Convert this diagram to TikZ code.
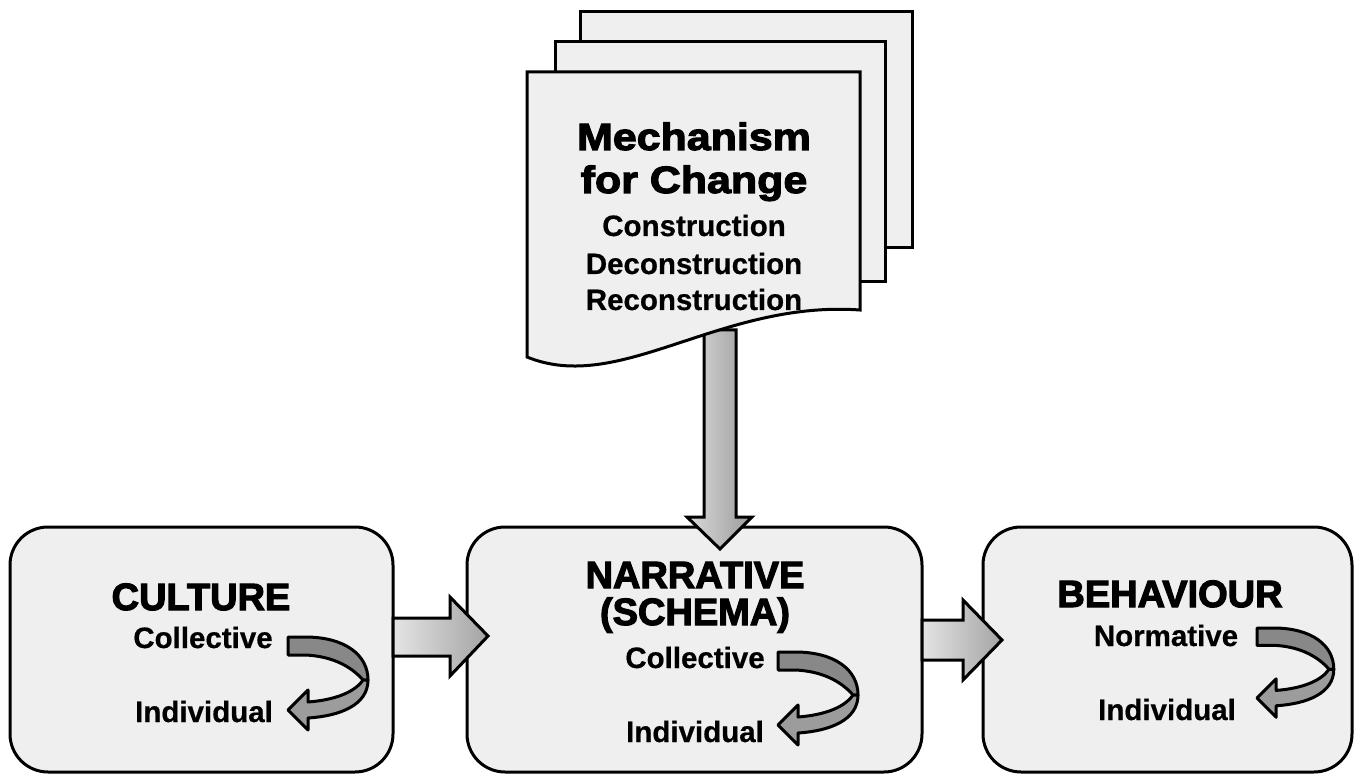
\documentclass[tikz,border=0pt]{standalone}
\usepackage{fontspec}
\setmainfont{Liberation Sans}[BoldFeatures={FakeBold=0.6}]
\newfontfamily\headfont{Liberation Sans}[BoldFeatures={FakeBold=3}]
\newfontfamily\mechfont{Liberation Sans}[BoldFeatures={FakeBold=3,FakeStretch=1.13}]
\definecolor{boxfill}{HTML}{EFEFEF}
\definecolor{curvup}{HTML}{888888}
\definecolor{curvlo}{HTML}{9C9C9C}
\definecolor{arrlight}{HTML}{E4E4E4}
\definecolor{arrdark}{HTML}{A4A4A4}
\tikzset{
  bigbox/.style={draw=black, line width=3pt, fill=boxfill, rounded corners=38pt, minimum height=245pt},
  sheet/.style={draw=black, line width=3pt, fill=boxfill, line join=miter},
  harrow/.style={draw=black, line width=3pt, line join=miter, left color=arrlight, right color=arrdark},
  varrow/.style={draw=black, line width=3pt, line join=miter, left color=arrlight!90!gray, right color=arrdark!110!white},
  headtxt/.style={font=\headfont\bfseries\fontsize{38}{40}\selectfont, inner sep=0pt, anchor=base},
  mechtxt/.style={font=\mechfont\bfseries\fontsize{38}{40}\selectfont, inner sep=0pt, anchor=base},
  subtxt/.style={font=\bfseries\fontsize{29.5}{31}\selectfont, inner sep=0pt, anchor=base},
  curv/.style={draw=black, line width=3pt, line join=round},
  curvarrow/.pic={
    \path[curv, fill=curvup] (0,0) -- (17,0) .. controls (57,0) and (80,18) .. (80,43)
       -- (75,43) .. controls (62,28) and (42,19) .. (17,18) -- (0,18) -- cycle;
    \path[curv, fill=curvlo] (80,43) .. controls (80,68) and (52,79) .. (20,81)
       -- (20,93) -- (0,73) -- (20,53) -- (20,65)
       .. controls (47,63) and (67,55) .. (75,43) -- cycle;
  }
}
\begin{document}
\begin{tikzpicture}[x=1pt,y=-1pt]
\useasboundingbox (0,0) rectangle (1358,775);

% boxes
\node[bigbox, minimum width=383pt] (culture) at (201.5,649.5) {};
\node[bigbox, minimum width=455pt] (narrative) at (694.5,649.5) {};
\node[bigbox, minimum width=369pt] (behaviour) at (1167.5,649.5) {};

% vertical arrow from document to narrative
\coordinate (docbot) at (720,330);
\coordinate (vtip) at (720,549);
\shade[varrow] (docbot) ++(-16,0) -- ++(0,187) -- ++(-17,0) -- (vtip) -- ++(32,-32) -- ++(-16,0) -- ++(0,-187) -- cycle;

% document stack
\path[sheet] (580,12) rectangle (912,248);
\path[sheet] (555,42) rectangle (885,282);
\path[sheet] (527,72) -- (860,72) -- (860,310) .. controls (720,300) and (620,395) .. (527,357) -- cycle;

\node[mechtxt] (mech1) at (694,150) {Mechanism};
\node[mechtxt] (mech2) at (694,193) {for Change};
\node[subtxt] (mech3) at (694,236) {Construction};
\node[subtxt] (mech4) at (694,274) {Deconstruction};
\node[subtxt] (mech5) at (694,310) {Reconstruction};

% horizontal block arrows
\coordinate (a1s) at (393,636);
\coordinate (a1t) at (488,636);
\shade[harrow] (a1s) ++(0,-18) -- ++(57,0) -- ++(0,-21) -- (a1t) -- ++(-38,40) -- ++(0,-20) -- ++(-57,0) -- cycle;
\coordinate (a2s) at (922,640);
\coordinate (a2t) at (1002,640);
\shade[harrow] (a2s) ++(0,-20) -- ++(41,0) -- ++(0,-20) -- (a2t) -- ++(-39,40) -- ++(0,-20) -- ++(-41,0) -- cycle;

% texts in boxes
\node[headtxt] (cultT) at (201,610) {CULTURE};
\node[subtxt] (cultC) at (203,648) {Collective};
\node[subtxt] (cultI) at (204,722) {Individual};

\node[headtxt] (narT) at (695,588) {NARRATIVE};
\node[headtxt] (narS) at (695,625) {(SCHEMA)};
\node[subtxt] (narC) at (695,668) {Collective};
\node[subtxt] (narI) at (695,742) {Individual};

\node[headtxt] (behT) at (1170,607) {BEHAVIOUR};
\node[subtxt] (behN) at (1166,646) {Normative};
\node[subtxt] (behI) at (1167,720) {Individual};

% curved arrows
\pic at (288,637) {curvarrow};
\pic at (778,652) {curvarrow};
\pic[scale=0.96] at (1257,628) {curvarrow};
\end{tikzpicture}
\end{document}
